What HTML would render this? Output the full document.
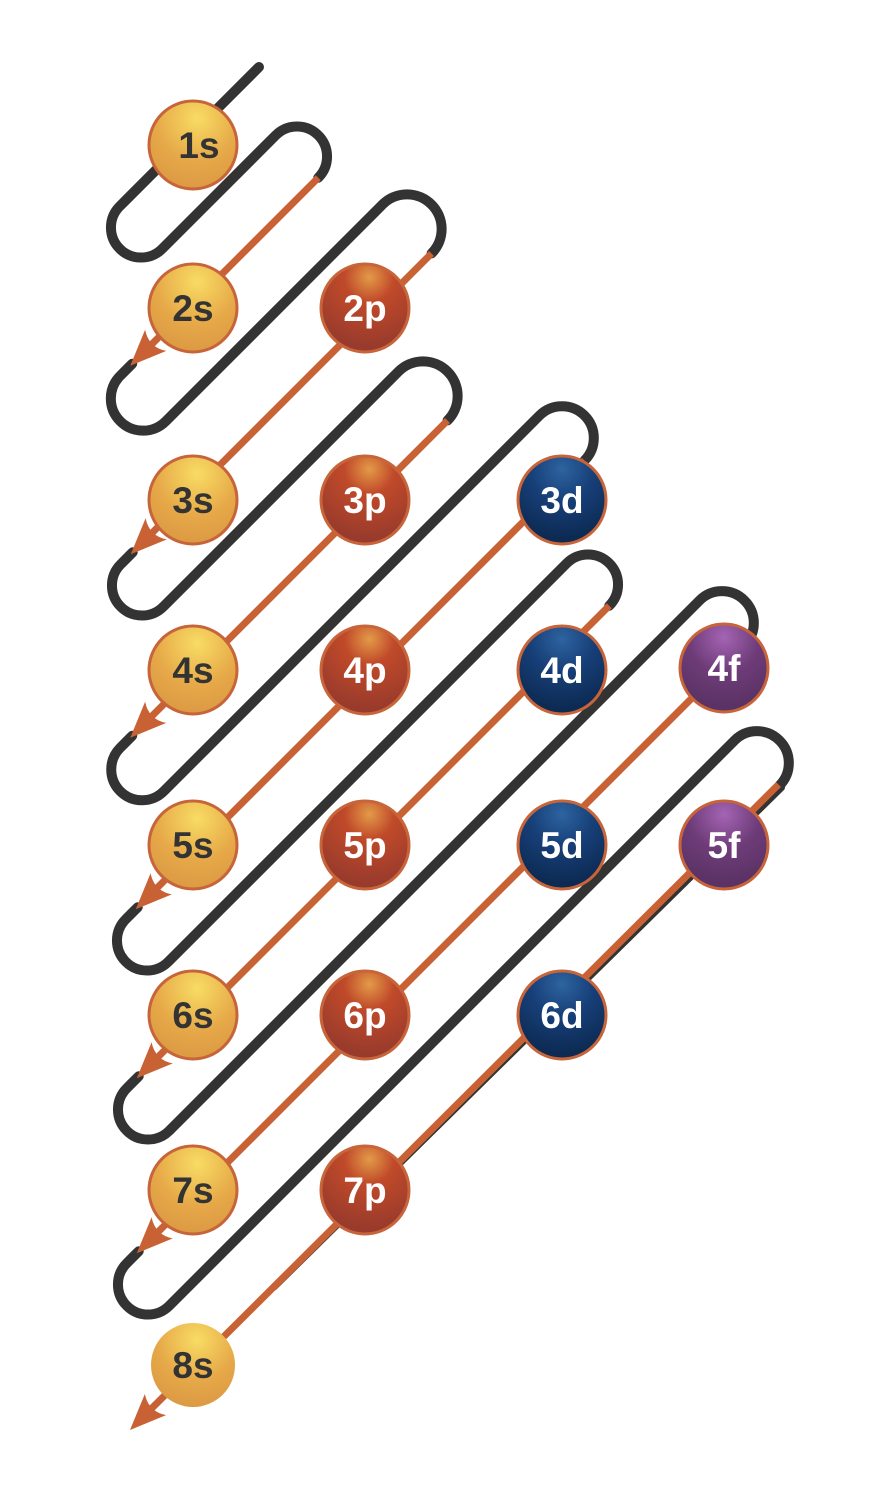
<!DOCTYPE html>
<html><head><meta charset="utf-8">
<style>
html,body{margin:0;padding:0;background:#fff;}
svg{display:block;}
text{font-family:"Liberation Sans",sans-serif;font-weight:bold;font-size:37px;text-anchor:middle;}
</style></head>
<body>
<svg id="s" width="882" height="1500" viewBox="0 0 882 1500" xmlns="http://www.w3.org/2000/svg">
<defs>
<radialGradient id="gs" cx="0.55" cy="0.2" r="0.8"><stop offset="0" stop-color="#f8dc64"/><stop offset="0.6" stop-color="#e6a848"/><stop offset="1" stop-color="#dc9a44"/></radialGradient>
<radialGradient id="gp" cx="0.55" cy="0.15" r="0.8"><stop offset="0" stop-color="#e39a48"/><stop offset="0.35" stop-color="#c04a2a"/><stop offset="1" stop-color="#983a2c"/></radialGradient>
<radialGradient id="gd" cx="0.5" cy="0.15" r="0.8"><stop offset="0" stop-color="#2d64a0"/><stop offset="0.45" stop-color="#173f78"/><stop offset="1" stop-color="#0c2a52"/></radialGradient>
<radialGradient id="gf" cx="0.5" cy="0.15" r="0.8"><stop offset="0" stop-color="#a464b4"/><stop offset="0.5" stop-color="#6e3c78"/><stop offset="1" stop-color="#5a3264"/></radialGradient>
</defs>
<g id="lines"></g>
<g id="circ"></g>
</svg>
<script>
var L=[326,411,496,587,685,770,868,955,1045,1130,1215,1300,1390,1475,1565];
var BX=[141,143,142,142,147,148,148];
var TX=[297,407,423,562,588,722,757];
var tops=[],bots=[];
for(var k=0;k<7;k++){
  var a=L[2*k],b=L[2*k+1],c=(a+b)/2,o=(b-a)/4,r=(b-a)/(2*Math.SQRT2);
  var cx=BX[k],cy=c-cx;
  bots.push({A:[cx-o,cy-o],B:[cx+o,cy+o],r:r});
  a=L[2*k+1];b=L[2*k+2];c=(a+b)/2;o=(b-a)/4;r=(b-a)/(2*Math.SQRT2);
  cx=TX[k];cy=c-cx;
  tops.push({A:[cx-o,cy-o],B:[cx+o,cy+o],r:r});
}
var g=document.getElementById("lines");
var ns="http://www.w3.org/2000/svg";
function blk(d,w){
  var p=document.createElementNS(ns,"path");
  p.setAttribute("d",d);p.setAttribute("fill","none");p.setAttribute("stroke","#333");
  p.setAttribute("stroke-width",w||"10");p.setAttribute("stroke-linecap","round");
  g.appendChild(p);
}
for(var k=0;k<7;k++){
  var bl=bots[k],tp=tops[k];
  var d=(k==0?"M259,67 L"+bl.A[0]+","+bl.A[1]:"M"+(bl.A[0]+12)+","+(bl.A[1]-12)+" L"+bl.A[0]+","+bl.A[1]);
  d+=" A"+bl.r+","+bl.r+" 0 0 0 "+bl.B[0]+","+bl.B[1];
  d+=" L"+tp.A[0]+","+tp.A[1]+" A"+tp.r+","+tp.r+" 0 0 1 "+tp.B[0]+","+tp.B[1];
  blk(d);
}
// last thin black running under orange lane G
var tB=tops[6].B;
blk("M"+(tB[0]+2)+","+(tB[1]+2)+" L274,1287","7");
for(var k=0;k<7;k++){
  var s=tops[k].B, e;
  if(k<6){var A=bots[k+1].A; e=[A[0]+10,A[1]-10];} else {e=[130,1430];}
  var ln=document.createElementNS(ns,"line");
  var sx=s[0],sy=s[1];
  if(k==6){sx-=1;sy-=1;}
  ln.setAttribute("x1",sx);ln.setAttribute("y1",sy);
  ln.setAttribute("x2",e[0]+12);ln.setAttribute("y2",e[1]-12);
  ln.setAttribute("stroke","#c86234");ln.setAttribute("stroke-width","7");
  g.appendChild(ln);
  var ah=document.createElementNS(ns,"path");
  ah.setAttribute("d","M0,0 L-36,-15 Q-26,0 -36,15 Z");
  ah.setAttribute("fill","#c86234");
  ah.setAttribute("transform","translate("+e[0]+","+e[1]+") rotate(135)");
  g.appendChild(ah);
}
var C=[
["1s",193,145,"s"],["2s",193,308,"s"],["3s",193,500,"s"],["4s",193,670,"s"],["5s",193,845,"s"],["6s",193,1015,"s"],["7s",193,1190,"s"],["8s",193,1365,"s8"],
["2p",365,308,"p"],["3p",365,500,"p"],["4p",365,670,"p"],["5p",365,845,"p"],["6p",365,1015,"p"],["7p",365,1190,"p"],
["3d",562,500,"d"],["4d",562,670,"d"],["5d",562,845,"d"],["6d",562,1015,"d"],
["4f",724,668,"f"],["5f",724,845,"f"]];
var cg=document.getElementById("circ");
C.forEach(function(q){
  var t=q[3];
  var ci=document.createElementNS(ns,"circle");
  ci.setAttribute("cx",q[1]);ci.setAttribute("cy",q[2]);ci.setAttribute("r",t=="s8"?42:44);
  ci.setAttribute("fill","url(#g"+(t=="s8"?"s":t)+")");
  if(t!="s8"){ci.setAttribute("stroke","#c8643a");ci.setAttribute("stroke-width","3");}
  cg.appendChild(ci);
  var tx=document.createElementNS(ns,"text");
  tx.setAttribute("x",q[1]+(q[0]=="1s"?6:0));tx.setAttribute("y",q[2]+13);
  tx.setAttribute("fill",(t=="s"||t=="s8")?"#333":"#fff");
  tx.textContent=q[0];
  cg.appendChild(tx);
});
</script>
</body></html>
